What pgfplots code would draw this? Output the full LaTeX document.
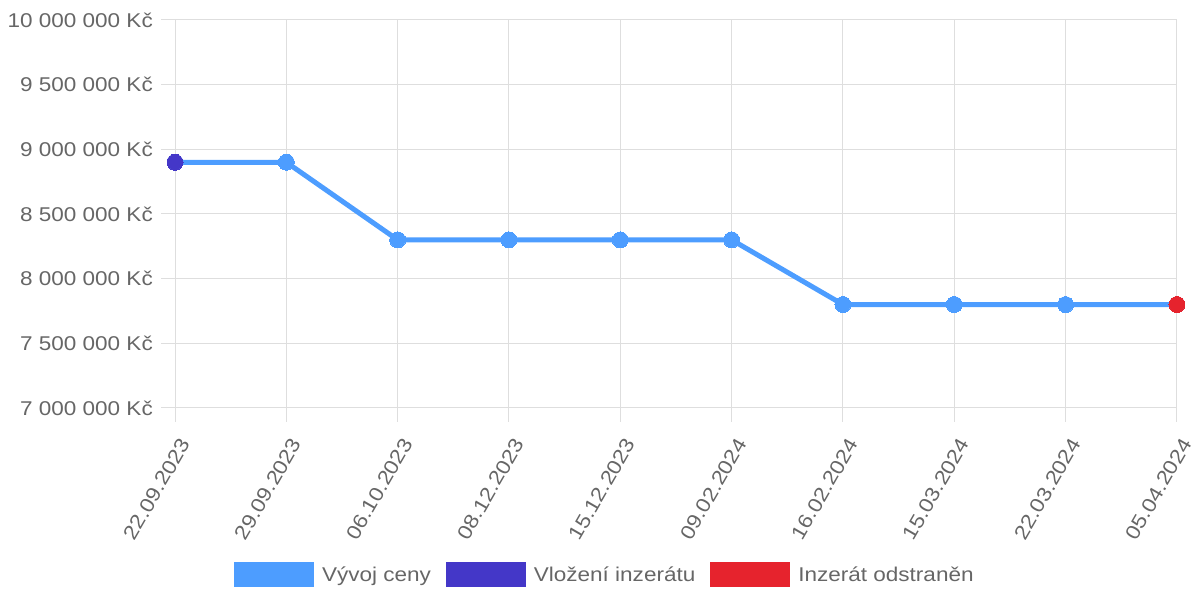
\documentclass[border=0pt]{standalone}
\usepackage{fontspec}
\setmainfont[FakeStretch=1.13]{Liberation Sans}
\usepackage{pgfplots}
\pgfplotsset{compat=1.18}
\definecolor{lineblue}{RGB}{77,157,255}
\definecolor{startpurple}{RGB}{68,55,200}
\definecolor{endred}{RGB}{230,35,45}
\definecolor{gridgray}{RGB}{222,222,222}
\definecolor{txtgray}{RGB}{102,102,102}
\begin{document}
\begin{tikzpicture}[x=1bp,y=1bp]
\useasboundingbox (0,0) rectangle (1199,592);
\begin{axis}[
  at={(175bp,184bp)}, anchor=south west,
  scale only axis, width=1002bp, height=388bp,
  xmin=0, xmax=9, ymin=7000000, ymax=10000000,
  xtick={0,...,9},
  xticklabels={22.09.2023,29.09.2023,06.10.2023,08.12.2023,15.12.2023,09.02.2024,16.02.2024,15.03.2024,22.03.2024,05.04.2024},
  ytick={7000000,7500000,8000000,8500000,9000000,9500000,10000000},
  yticklabels={7 000 000 Kč,7 500 000 Kč,8 000 000 Kč,8 500 000 Kč,9 000 000 Kč,9 500 000 Kč,10 000 000 Kč},
  scaled y ticks=false,
  tick pos=left,
  grid=major, grid style={gridgray, line width=1bp},
  axis line style={gridgray, line width=1bp},
  tick style={gridgray, line width=1bp},
  tick align=outside, major tick length=14bp,
  ticklabel style={font=\fontsize{20}{24}\selectfont, text=txtgray},
  xticklabel style={xshift=10bp, yshift=-18bp, rotate=60, anchor=east, inner sep=0pt},
  yticklabel style={xshift=-8bp, anchor=east, inner sep=0pt},
  clip=false,
  legend style={at={(0.428,-0.43)}, anchor=center, draw=none, fill=none,
    font=\fontsize{20}{24}\selectfont, text=txtgray,
    nodes={inner sep=0pt},
    /tikz/every even column/.append style={column sep=15bp},
    /tikz/every odd column/.append style={column sep=8bp}},
  legend columns=3,
  legend cell align=left,
  legend image code/.code={\fill[#1] (0bp,-12.5bp) rectangle (80bp,12.5bp);},
]
\addlegendimage{fill=lineblue, draw=none}
\addlegendentry{Vývoj ceny}
\addlegendimage{fill=startpurple, draw=none}
\addlegendentry{Vložení inzerátu}
\addlegendimage{fill=endred, draw=none}
\addlegendentry{Inzerát odstraněn}
\addplot[lineblue, line width=5bp, mark=*, mark size=8bp,
  mark options={fill=lineblue, draw=lineblue, line width=0bp}, forget plot]
  coordinates {(0,8900000) (1,8900000) (2,8300000) (3,8300000) (4,8300000)
               (5,8300000) (6,7800000) (7,7800000) (8,7800000) (9,7800000)};
\addplot[only marks, mark=*, mark size=8bp, startpurple, mark options={fill=startpurple, draw=startpurple, line width=0bp}, forget plot]
  coordinates {(0,8900000)};
\addplot[only marks, mark=*, mark size=8bp, endred, mark options={fill=endred, draw=endred, line width=0bp}, forget plot]
  coordinates {(9,7800000)};
\end{axis}
\end{tikzpicture}
\end{document}
